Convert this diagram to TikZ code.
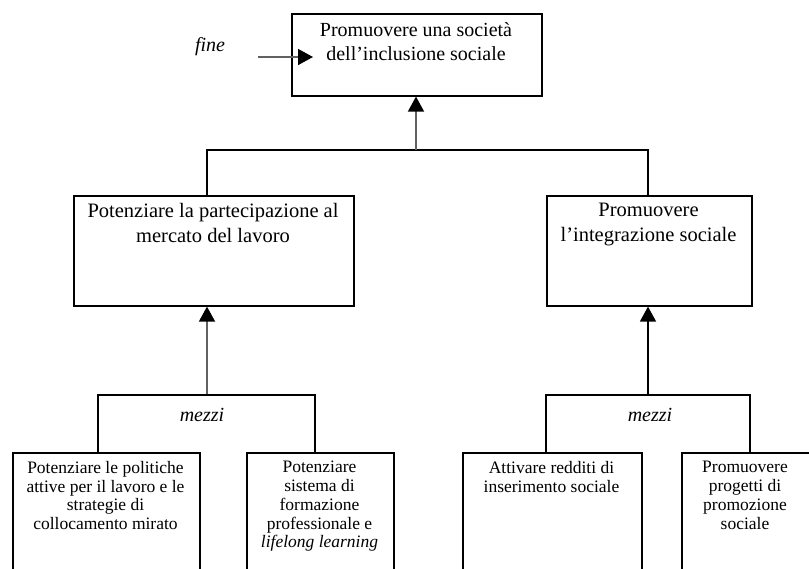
\documentclass[tikz,border=0pt]{standalone}
\usepackage{fontspec}
\setmainfont{Liberation Serif}
\usetikzlibrary{arrows.meta}
\begin{document}
\begin{tikzpicture}[x=1pt,y=-1pt,
  boxn/.style={draw=black,line width=1.6pt,inner sep=0pt,anchor=north west},
  toptxt/.style={font=\fontsize{20}{24}\selectfont,align=center,anchor=north,inner sep=0pt},
  midtxt/.style={font=\fontsize{20.5}{25}\selectfont,align=center,anchor=north,inner sep=0pt},
  bottxt/.style={font=\fontsize{17.5}{18.8}\selectfont,align=center,anchor=north,inner sep=0pt},
  itxt/.style={font=\fontsize{20}{24}\selectfont\itshape,inner sep=0pt},
  conn/.style={line width=1.5pt,black},
  gconn/.style={line width=1.6pt,black!62},
  arr/.style={-{Triangle[length=15pt,width=16pt,color=black]}}
]
\useasboundingbox (0,0) rectangle (809,568);
\fill[white] (0,0) rectangle (809,568);
\clip (0,0) rectangle (809,568);

% boxes
\node[boxn,minimum width=250pt,minimum height=82pt] (top) at (291,13) {};
\node[boxn,minimum width=280pt,minimum height=110pt] (L) at (73,195) {};
\node[boxn,minimum width=205pt,minimum height=110pt] (R) at (546,195) {};
\node[boxn,minimum width=187pt,minimum height=130pt] (b1) at (12,452) {};
\node[boxn,minimum width=147pt,minimum height=130pt] (b2) at (246,452) {};
\node[boxn,minimum width=179pt,minimum height=130pt] (b3) at (462,452) {};
\node[boxn,minimum width=150pt,minimum height=130pt] (b4) at (681,452) {};

% texts
\node[toptxt] (ttop) at (416,22) {Promuovere una società\\dell’inclusione sociale};
\node[midtxt] (tL) at (213,203) {Potenziare la partecipazione al\\mercato del lavoro};
\node[midtxt] (tR) at (648.5,203) {Promuovere\\l’integrazione sociale};
\node[bottxt] (tb1) at (105.5,461) {Potenziare le politiche\\attive per il lavoro e le\\strategie di\\collocamento mirato};
\node[bottxt] (tb2) at (319.5,461) {Potenziare\\sistema di\\formazione\\professionale e\\\textit{lifelong learning}};
\node[bottxt] (tb3) at (551.5,461) {Attivare redditi di\\inserimento sociale};
\node[bottxt] (tb4) at (745,461) {Promuovere\\progetti di\\promozione\\sociale};

\node[itxt] (fine) at (210,47) {fine};
\node[itxt] (mezziL) at (202,415) {mezzi};
\node[itxt] (mezziR) at (650,415) {mezzi};

% coordinates
\coordinate (fineS) at (258,57);
\coordinate (fineE) at (313,57);
\coordinate (bus) at (416,150);
\coordinate (busL) at (207,150);
\coordinate (busR) at (648,150);
\coordinate (kL1) at (98,395);
\coordinate (kR1) at (315,395);
\coordinate (kM1) at (207,395);
\coordinate (kL2) at (546,395);
\coordinate (kR2) at (750,395);
\coordinate (kM2) at (648,395);

% connectors
\draw[gconn,arr] (fineS) -- (fineE);
\draw[conn] (busL |- L.north) -- (busL) -- (busR) -- (busR |- R.north);
\draw[gconn,arr] (bus) -- (bus |- top.south);
\draw[gconn,arr] (kM1) -- (kM1 |- L.south);
\draw[conn,arr] (kM2) -- (kM2 |- R.south);
\draw[conn] (kL1 |- b1.north) -- (kL1) -- (kR1) -- (kR1 |- b2.north);
\draw[conn] (kL2 |- b3.north) -- (kL2) -- (kR2) -- (kR2 |- b4.north);
\end{tikzpicture}
\end{document}
